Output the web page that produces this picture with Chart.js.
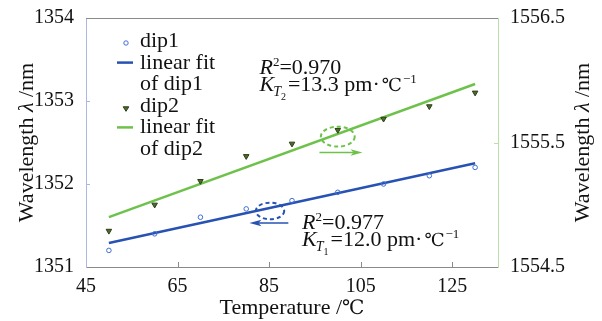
<!DOCTYPE html>
<html>
<head>
<meta charset="utf-8">
<script src="https://cdn.jsdelivr.net/npm/chart.js@4.4.1/dist/chart.umd.min.js"></script>
<style>
  html, body { margin: 0; padding: 0; background: #fff; }
  #wrap { width: 602px; height: 321px; position: relative; }
</style>
</head>
<body>
<div id="wrap"><canvas id="chart"></canvas></div>
<script>
"use strict";

// data
var temps = [50, 60, 70, 80, 90, 100, 110, 120, 130];
var dip1 = [1351.2, 1351.4, 1351.6, 1351.7, 1351.8, 1351.9, 1352.0, 1352.1, 1352.2];
var dip2 = [1554.79, 1555.0, 1555.19, 1555.39, 1555.49, 1555.6, 1555.69, 1555.79, 1555.9];
var fitTemps = [50, 130];
var fit1 = [1351.29, 1352.25];
var fit2 = [1554.9, 1555.97];

var xTicks = [45, 65, 85, 105, 125];
var yTicks = [1351, 1352, 1353, 1354];
var y2Ticks = [1554.5, 1555.5, 1556.5];

var serif = "'Liberation Serif', 'DejaVu Serif', 'Noto Sans CJK SC', serif";
var blue = "#2752b3";
var blueMark = "#3f6fd3";
var green = "#6ec24b";
var triFill = "#4e6c25";
var TXT = 22;

function pts(xs, ys) {
    return xs.map(function (x, i) { return { x: x, y: ys[i] }; });
}

// draws a row of text pieces: [text, size, italic, dy, extra gap]
function pieces(ctx, x, y, list, color) {
    ctx.save();
    ctx.fillStyle = color || "#111";
    ctx.textBaseline = "alphabetic";
    ctx.textAlign = "left";
    list.forEach(function (p) {
        ctx.font = (p[2] ? "italic " : "") + p[1] + "px " + serif;
        ctx.fillText(p[0], x, y + (p[3] || 0));
        x += ctx.measureText(p[0]).width + (p[4] || 0);
    });
    ctx.restore();
}

function piecesWidth(ctx, list) {
    var w = 0;
    ctx.save();
    list.forEach(function (p) {
        ctx.font = (p[2] ? "italic " : "") + p[1] + "px " + serif;
        w += ctx.measureText(p[0]).width + (p[4] || 0);
    });
    ctx.restore();
    return w;
}

function arrow(ctx, x1, y1, x2, y2, color) {
    var dir = x2 > x1 ? 1 : -1;
    ctx.save();
    ctx.strokeStyle = color;
    ctx.fillStyle = color;
    ctx.lineWidth = 1.6;
    ctx.beginPath();
    ctx.moveTo(x1, y1);
    ctx.lineTo(x2 - dir * 6, y2);
    ctx.stroke();
    ctx.beginPath();
    ctx.moveTo(x2, y2);
    ctx.lineTo(x2 - dir * 12, y2 - 3.2);
    ctx.lineTo(x2 - dir * 9, y2);
    ctx.lineTo(x2 - dir * 12, y2 + 3.2);
    ctx.closePath();
    ctx.fill();
    ctx.restore();
}

function dashedEllipse(ctx, cx, cy, rx, ry, color) {
    ctx.save();
    ctx.strokeStyle = color;
    ctx.lineWidth = 2;
    ctx.setLineDash([4, 3]);
    ctx.beginPath();
    ctx.ellipse(cx, cy, rx, ry, 0, 0, Math.PI * 2);
    ctx.stroke();
    ctx.restore();
}

var extras = {
    id: "extras",
    afterDraw: function (chart) {
        var ctx = chart.ctx, a = chart.chartArea;
        var sx = chart.scales.x, sy = chart.scales.y, sy2 = chart.scales.y2;

        // frame top and inward ticks
        ctx.save();
        ctx.lineWidth = 1;
        ctx.strokeStyle = "#8a8a8a";
        ctx.beginPath();
        ctx.moveTo(a.left, a.top + 0.5);
        ctx.lineTo(a.right, a.top + 0.5);
        ctx.stroke();
        xTicks.slice(1).forEach(function (v) {
            var px = Math.round(sx.getPixelForValue(v)) + 0.5;
            ctx.beginPath();
            ctx.moveTo(px, a.bottom);
            ctx.lineTo(px, a.bottom - 5);
            ctx.stroke();
        });
        ctx.strokeStyle = "#a9b9e2";
        yTicks.slice(1, -1).forEach(function (v) {
            var py = Math.round(sy.getPixelForValue(v)) + 0.5;
            ctx.beginPath();
            ctx.moveTo(a.left, py);
            ctx.lineTo(a.left + 4, py);
            ctx.stroke();
        });
        ctx.strokeStyle = "#b9e0a9";
        y2Ticks.slice(1, -1).forEach(function (v) {
            var py = Math.round(sy2.getPixelForValue(v)) + 0.5;
            ctx.beginPath();
            ctx.moveTo(a.right, py);
            ctx.lineTo(a.right - 4, py);
            ctx.stroke();
        });
        ctx.restore();

        // axis titles
        var midY = (a.top + a.bottom) / 2;
        var yTitle = [["Wavelength ", TXT, false], ["λ", TXT, true], [" /nm", TXT, false]];
        var tw = piecesWidth(ctx, yTitle);
        ctx.save();
        ctx.translate(33, midY);
        ctx.rotate(-Math.PI / 2);
        pieces(ctx, -tw / 2, 0, yTitle);
        ctx.restore();
        ctx.save();
        ctx.translate(589, midY);
        ctx.rotate(-Math.PI / 2);
        pieces(ctx, -tw / 2, 0, yTitle);
        ctx.restore();
        var xTitle = [["Temperature /", TXT, false], ["℃", 20, false]];
        pieces(ctx, (a.left + a.right) / 2 - piecesWidth(ctx, xTitle) / 2, 314, xTitle);

        // legend
        var lx = a.left + 40, tx = a.left + 54, ly = a.top + 23, step = 21.6;
        ctx.save();
        ctx.strokeStyle = blueMark;
        ctx.lineWidth = 1;
        ctx.beginPath();
        ctx.arc(lx, ly + 2, 2.2, 0, Math.PI * 2);
        ctx.stroke();
        ctx.lineWidth = 2.5;
        ctx.strokeStyle = blue;
        ctx.beginPath();
        ctx.moveTo(lx - 9, ly + step);
        ctx.lineTo(lx + 7, ly + step);
        ctx.stroke();
        ctx.fillStyle = triFill;
        ctx.strokeStyle = "#2d3d1a";
        ctx.lineWidth = 1;
        ctx.beginPath();
        ctx.moveTo(lx - 2.8, ly + 3 * step + 1);
        ctx.lineTo(lx + 2.8, ly + 3 * step + 1);
        ctx.lineTo(lx, ly + 3 * step + 5.5);
        ctx.closePath();
        ctx.fill();
        ctx.stroke();
        ctx.lineWidth = 2.5;
        ctx.strokeStyle = green;
        ctx.beginPath();
        ctx.moveTo(lx - 9, ly + 4 * step);
        ctx.lineTo(lx + 7, ly + 4 * step);
        ctx.stroke();
        ctx.restore();
        ["dip1", "linear fit", "of dip1", "dip2", "linear fit", "of dip2"].forEach(function (t, i) {
            pieces(ctx, tx, ly + i * step + 6, [[t, TXT, false]]);
        });

        // fit annotations
        var ax = sx.getPixelForValue(82.9), ay = sy.getPixelForValue(1353.33);
        pieces(ctx, ax, ay, [["R", TXT, true], ["2", 13, false, -8], ["=0.970", TXT, false]]);
        pieces(ctx, ax, ay + 17, [["K", TXT, true, 0, -1], ["T", 14, true, 5], ["2", 10, false, 9, 2],
            ["=13.3 pm·", TXT, false, 0, 2], ["℃", 18, false, 0, 1], ["−1", 13, false, -8]]);
        var bx = sx.getPixelForValue(92.2), by = sy.getPixelForValue(1351.46);
        pieces(ctx, bx, by, [["R", TXT, true], ["2", 13, false, -8], ["=0.977", TXT, false]]);
        pieces(ctx, bx, by + 17, [["K", TXT, true, 0, -1], ["T", 14, true, 5], ["1", 10, false, 9, 2],
            ["=12.0 pm·", TXT, false, 0, 2], ["℃", 18, false, 0, 1], ["−1", 13, false, -8]]);

        // markers pointing each curve to its axis
        var gcx = sx.getPixelForValue(100), gcy = sy2.getPixelForValue(1555.547);
        dashedEllipse(ctx, gcx, gcy, sx.getPixelForValue(103.7) - gcx, gcy - sy2.getPixelForValue(1555.627), green);
        var gay = sy2.getPixelForValue(1555.42);
        arrow(ctx, sx.getPixelForValue(96.0), gay, sx.getPixelForValue(105.4), gay, green);
        var bcx = sx.getPixelForValue(85.2), bcy = sy.getPixelForValue(1351.675);
        dashedEllipse(ctx, bcx, bcy, sx.getPixelForValue(88.3) - bcx, bcy - sy.getPixelForValue(1351.775), blue);
        var bay = sy.getPixelForValue(1351.53);
        arrow(ctx, sx.getPixelForValue(89.2), bay, sx.getPixelForValue(80.7), bay, blue);
    }
};

var tickFont = { family: serif, size: 20 };

new Chart(document.getElementById("chart").getContext("2d"), {
    type: "scatter",
    data: {
        datasets: [{
            label: "dip1",
            data: pts(temps, dip1),
            yAxisID: "y",
            pointStyle: "circle",
            pointRadius: 2.3,
            pointBorderWidth: 1,
            pointBorderColor: blueMark,
            pointBackgroundColor: "rgba(0,0,0,0)",
            order: 1
        }, {
            label: "linear fit of dip1",
            data: pts(fitTemps, fit1),
            yAxisID: "y",
            showLine: true,
            borderColor: blue,
            borderWidth: 2.5,
            pointRadius: 0,
            order: 2
        }, {
            label: "dip2",
            data: pts(temps, dip2),
            yAxisID: "y2",
            pointStyle: "triangle",
            rotation: 180,
            pointRadius: 3.2,
            pointBorderWidth: 1,
            pointBorderColor: "#2d3d1a",
            pointBackgroundColor: triFill,
            order: 1
        }, {
            label: "linear fit of dip2",
            data: pts(fitTemps, fit2),
            yAxisID: "y2",
            showLine: true,
            borderColor: green,
            borderWidth: 2.5,
            pointRadius: 0,
            order: 2
        }]
    },
    options: {
        responsive: true,
        maintainAspectRatio: false,
        animation: false,
        layout: { padding: { top: 18, left: 0, right: 0, bottom: 0 } },
        plugins: {
            legend: { display: false },
            tooltip: { enabled: false }
        },
        scales: {
            x: {
                type: "linear",
                min: 45,
                max: 135,
                afterBuildTicks: function (s) { s.ticks = xTicks.map(function (v) { return { value: v }; }); },
                afterFit: function (s) { s.height = 54; },
                ticks: { font: tickFont, color: "#111", padding: 0, maxRotation: 0,
                    callback: function (v) { return String(v); } },
                grid: { display: false },
                border: { display: true, color: "#8a8a8a", width: 1 }
            },
            y: {
                type: "linear",
                position: "left",
                min: 1351,
                max: 1354,
                afterBuildTicks: function (s) { s.ticks = yTicks.map(function (v) { return { value: v }; }); },
                afterFit: function (s) { s.width = 86; },
                ticks: { font: tickFont, color: "#111", padding: 4,
                    callback: function (v) { return String(v); } },
                grid: { display: false },
                border: { display: true, color: "#a9b9e2", width: 1 }
            },
            y2: {
                type: "linear",
                position: "right",
                min: 1554.5,
                max: 1556.5,
                afterBuildTicks: function (s) { s.ticks = y2Ticks.map(function (v) { return { value: v }; }); },
                afterFit: function (s) { s.width = 104; },
                ticks: {
                    font: tickFont, color: "#111", padding: 4,
                    callback: function (v) { return v.toFixed(1); }
                },
                grid: { display: false },
                border: { display: true, color: "#b9e0a9", width: 1 }
            }
        }
    },
    plugins: [extras]
});
</script>
</body>
</html>
